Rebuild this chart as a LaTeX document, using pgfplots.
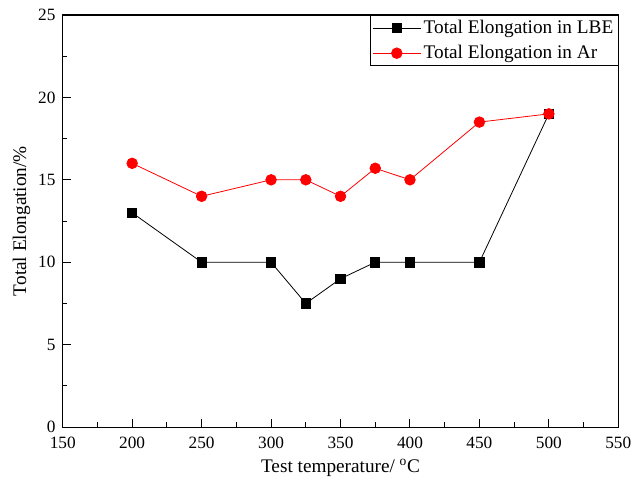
\documentclass[border=0pt]{standalone}
\usepackage{pgfplots}
\pgfplotsset{compat=1.18}
\usepackage{fontspec}
\setmainfont{Liberation Serif}
\definecolor{cAr}{HTML}{FF0000}

\begin{document}
\fontsize{13}{15}\selectfont
\begin{tikzpicture}
\begin{axis}[
  scale only axis,
  width=418.5pt, height=310.5pt,
  xmin=150, xmax=550, ymin=0, ymax=25,
  xtick={150,200,...,550}, ytick={0,5,...,25},
  minor x tick num=1, minor y tick num=1,
  tick pos=left, tick align=inside,
  major tick length=6pt, minor tick length=3.5pt,
  every tick/.style={black, line width=0.8pt},
  axis line style={line width=0.9pt},
  /pgf/number format/assume math mode=true,
  ticklabel style={font=\fontsize{13}{15}\selectfont},
  xticklabel style={yshift=-3pt},
  yticklabel style={xshift=-1pt},
  xlabel={Test temperature/ \textsuperscript{o}C},
  ylabel={Total Elongation/\%},
  label style={font=\fontsize{14.5}{16}\selectfont},
  xlabel style={at={([yshift=-31pt]axis description cs:0.5,0)}, anchor=center},
  ylabel style={at={([xshift=-31pt]axis description cs:0,0.5)}, anchor=center},
  legend style={at={(rel axis cs:1,1)}, anchor=north east,
    font=\fontsize{14.5}{16}\selectfont, draw=black, line width=0.6pt,
    inner sep=1.5pt, row sep=3pt, cells={anchor=west}},
  legend image code/.code={%
    \draw[mark repeat=2, mark phase=2] plot coordinates {(0pt,0pt) (18pt,0pt) (36pt,0pt)};},
  legend cell align=left,
]
\coordinate (bl) at (rel axis cs:0,0);
\coordinate (tr) at (rel axis cs:1,1);
\addplot[black, line width=0.6pt, mark=square*, mark size=3.5pt, mark options={solid}]
  coordinates {(200,13)(250,10)(300,10)(325,7.5)(350,9)(375,10)(400,10)(450,10)(500,19)};
\addplot[cAr, line width=0.6pt, mark=*, mark size=4pt, mark options={solid, fill=cAr}]
  coordinates {(200,16)(250,14)(300,15)(325,15)(350,14)(375,15.7)(400,15)(450,18.5)(500,19)};
\legend{Total Elongation in LBE, Total Elongation in Ar}
\end{axis}
\path ([shift={(-47.25pt,-44.25pt)}]bl) rectangle ([shift={(12pt,11.25pt)}]tr);
\end{tikzpicture}
\end{document}
